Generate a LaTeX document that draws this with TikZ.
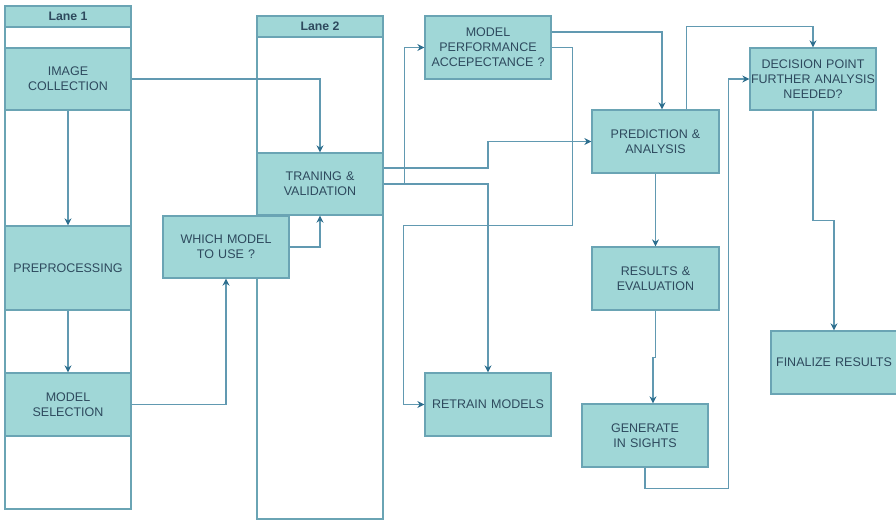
\documentclass[tikz,border=0pt]{standalone}
\usepackage{fontspec}
\setmainfont{Liberation Sans}
\usetikzlibrary{arrows.meta,positioning,calc}
\definecolor{boxfill}{HTML}{A0D7D7}
\definecolor{boxline}{HTML}{6AA4B4}
\definecolor{wire}{HTML}{6199B1}
\definecolor{tipblue}{HTML}{2D6E8E}
\definecolor{ink}{HTML}{2E4A5E}

\begin{document}
\begin{tikzpicture}[x=1pt, y=-1pt, font=\fontsize{12.5}{15}\selectfont,
  proc/.style={draw=boxline, line width=1.3pt, fill=boxfill, text=ink, align=center,
    minimum width=126pt, minimum height=62pt, inner sep=0pt, text width=124pt},
  lanehead/.style={draw=boxline, line width=1.3pt, fill=boxfill, text=ink,
    minimum width=126pt, minimum height=21pt, inner sep=0pt, font=\fontsize{12.3}{14}\selectfont\bfseries},
  flow/.style={draw=wire, line width=1.4pt, -{Stealth[length=7pt,width=7pt,color=tipblue]}}]
\useasboundingbox (0,0) rectangle (896,520);
% lanes
\draw[boxline, line width=1.3pt] (5,27) rectangle (131,509);
\draw[boxline, line width=1.3pt] (257,37) rectangle (383,519);
\node[lanehead] (lanea) at (68,16.5) {Lane 1};
\node[lanehead] (laneb) at (320,26.5) {Lane 2};

% steps
\node[proc] (img) at (68,79) {IMAGE\\COLLECTION};
\node[proc, minimum height=84pt] (prep) at (68,268) {PREPROCESSING};
\node[proc, minimum height=63pt] (msel) at (68,404.5) {MODEL\\SELECTION};
\node[proc] (train) at (320,184) {TRANING \&\\VALIDATION};
\node[proc] (which) at (226,247) {WHICH MODEL\\TO USE ?};
\node[proc, minimum height=63pt] (perf) at (488,47.5) {MODEL\\PERFORMANCE\\ACCEPECTANCE ?};
\node[proc, minimum height=63pt] (retrain) at (488,404.5) {RETRAIN MODELS};
\node[proc, minimum width=127pt, minimum height=63pt] (pred) at (655.5,141.5) {PREDICTION \&\\ANALYSIS};
\node[proc] (dec) at (813,79) {DECISION POINT\\FURTHER ANALYSIS\\NEEDED?};
\node[proc, minimum width=127pt, minimum height=63pt] (res) at (655.5,278.5) {RESULTS \&\\EVALUATION};
\node[proc, minimum height=63pt] (gen) at (645,435.5) {GENERATE\\IN SIGHTS};
\node[proc, minimum height=63pt] (fin) at (834,362.5) {FINALIZE RESULTS};

% connectors
\draw[flow] (img.east) -| (train.north);
\draw[flow] (img.south) -- (prep.north);
\draw[flow] (prep.south) -- (msel.north);
\draw[flow] (msel.east) -| (which.south);
\draw[flow] (which.east) -| (train.south);
\draw[flow] ([yshift=16pt]train.east) -| (retrain.north |- pred.west) -- (pred.west);
\draw[flow] (train.east) -- ++(21,0) |- (perf.west);
\draw[flow] (train.east) -| (retrain.north);
\draw[flow] ([yshift=15.5pt]perf.east) -| ([xshift=6.5pt]pred.north);
\draw[flow] (perf.east) -- ++(21,0) -- ++(0,178) -| ([xshift=-21pt]retrain.west) -- (retrain.west);
\draw[flow] ([xshift=31pt]pred.north) -- ++(0,-83) -| (dec.north);
\draw[flow] (pred.south) -- (res.north);
\draw[flow] (res.south) -- ++(0,47) -| ([xshift=8pt]gen.north);
\draw[flow] (gen.south) -- ++(0,21) -| ([xshift=-21pt]dec.west) -- (dec.west);
\draw[flow] (dec.south) -- ++(0,110) -| (fin.north);
\end{tikzpicture}
\end{document}
